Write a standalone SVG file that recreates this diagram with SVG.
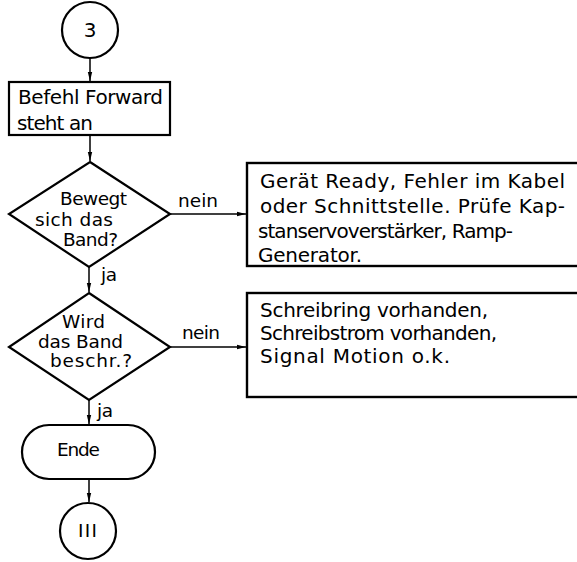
<svg xmlns="http://www.w3.org/2000/svg" width="577" height="562" viewBox="0 0 577 562">
<style>
.shape{fill:#fff;stroke:#000;stroke-width:2.2}
.box{fill:#fff;stroke:#000;stroke-width:2.4}
.conn{fill:none;stroke:#000;stroke-width:1.5}
text{font-family:"DejaVu Sans","Liberation Sans",sans-serif;fill:#000}
.t20{font-size:20px}
.t18{font-size:18.5px}
.mid{text-anchor:middle}
</style>
<defs>
<marker id="arr" markerUnits="userSpaceOnUse" markerWidth="10" markerHeight="8" refX="9" refY="3" orient="auto">
<path d="M0,0.8 L9,3 L0,5.2 Z" fill="#000"/>
</marker>
</defs>
<rect width="577" height="562" fill="#fff"/>
<g id="connectors">
<line class="conn" x1="90" y1="58" x2="90" y2="81" marker-end="url(#arr)"/>
<line class="conn" x1="90" y1="135" x2="90" y2="161" marker-end="url(#arr)"/>
<line class="conn" x1="89" y1="267" x2="89" y2="292" marker-end="url(#arr)"/>
<line class="conn" x1="89" y1="400" x2="89" y2="424" marker-end="url(#arr)"/>
<line class="conn" x1="89" y1="479" x2="89" y2="502" marker-end="url(#arr)"/>
<line class="conn" x1="170" y1="214" x2="246" y2="214" marker-end="url(#arr)"/>
<line class="conn" x1="170" y1="347" x2="246" y2="347" marker-end="url(#arr)"/>
<text class="t18" x="178" y="207" textLength="40">nein</text>
<text class="t18" x="182" y="339" textLength="38">nein</text>
<text class="t18" x="101" y="281" textLength="16">ja</text>
<text class="t18" x="97" y="417" textLength="16">ja</text>
</g>
<g id="n-start">
<circle class="shape" cx="90" cy="30" r="28"/>
<text class="t20 mid" x="90" y="37">3</text>
</g>
<g id="n-befehl">
<rect class="shape" x="9" y="82" width="161" height="53"/>
<text class="t20" x="18" y="104" textLength="145">Befehl Forward</text>
<text class="t20" x="17" y="130" textLength="76">steht an</text>
</g>
<g id="n-bewegt">
<polygon class="shape" points="90,162 170,214 89,267 9,214"/>
<text class="t18" x="60" y="205" textLength="67">Bewegt</text>
<text class="t18" x="35" y="226" textLength="78">sich das</text>
<text class="t18" x="63" y="246" textLength="55">Band?</text>
</g>
<g id="n-fehler">
<rect class="box" x="247" y="163" width="340" height="103"/>
<text class="t20" x="260" y="188" textLength="305">Gerät Ready, Fehler im Kabel</text>
<text class="t20" x="260" y="213" textLength="305">oder Schnittstelle. Prüfe Kap-</text>
<text class="t20" x="258" y="238" textLength="255">stanservoverstärker, Ramp-</text>
<text class="t20" x="258" y="262" textLength="104">Generator.</text>
</g>
<g id="n-wird">
<polygon class="shape" points="89,293 170,347 89,400 9,347"/>
<text class="t18" x="62" y="328" textLength="43">Wird</text>
<text class="t18" x="38" y="348" textLength="85">das Band</text>
<text class="t18" x="50" y="367" textLength="82">beschr.?</text>
</g>
<g id="n-schreib">
<rect class="box" x="247" y="293" width="340" height="104"/>
<text class="t20" x="260" y="317" textLength="228">Schreibring vorhanden,</text>
<text class="t20" x="260" y="340" textLength="237">Schreibstrom vorhanden,</text>
<text class="t20" x="260" y="363" textLength="190">Signal Motion o.k.</text>
</g>
<g id="n-ende">
<rect class="shape" x="22" y="425" width="133" height="54" rx="27" ry="27"/>
<text class="t18" x="57" y="456" textLength="43">Ende</text>
</g>
<g id="n-end">
<circle class="shape" cx="88" cy="531" r="28"/>
<text class="t18" x="78" y="537" textLength="19">III</text>
</g>
</svg>
